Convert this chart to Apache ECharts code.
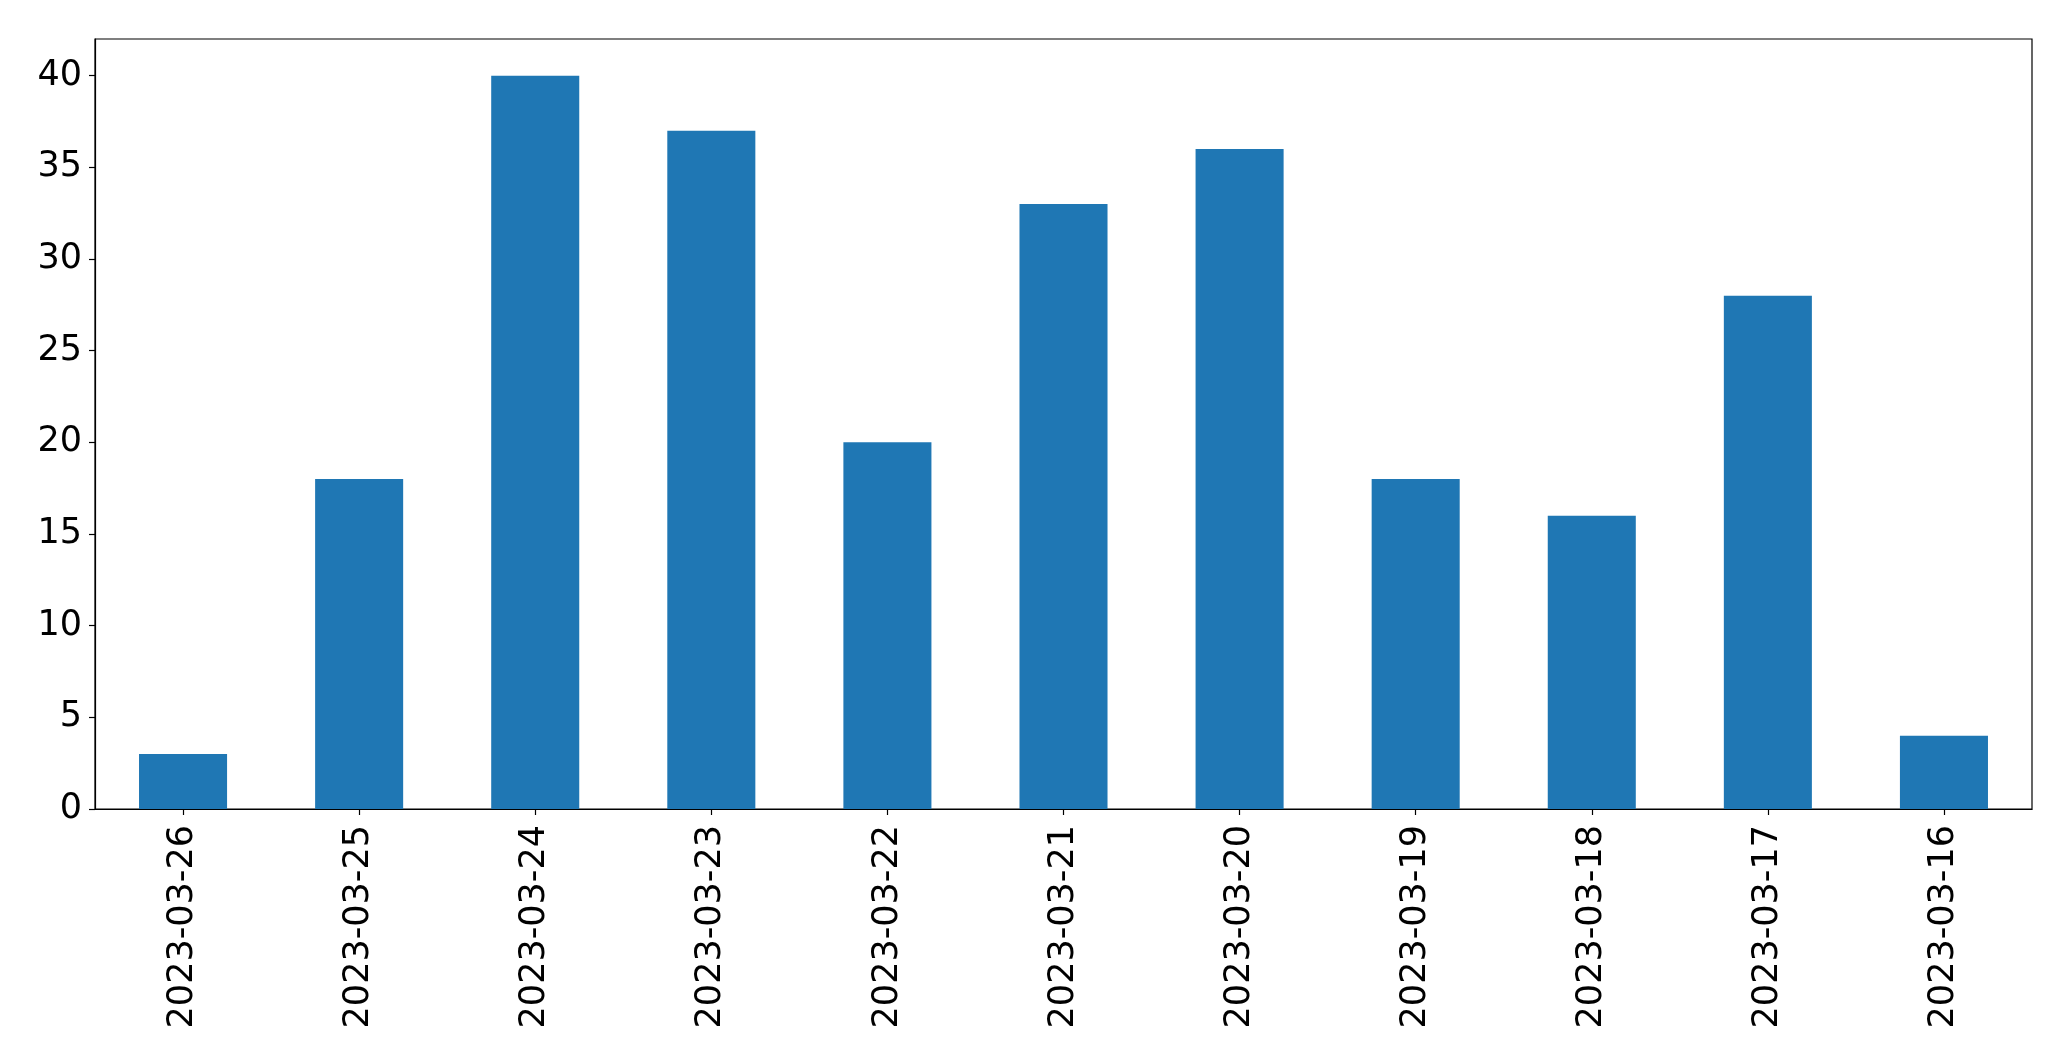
<!DOCTYPE html>
<html>
<head>
<meta charset="utf-8">
<script src="https://cdn.jsdelivr.net/npm/echarts@6/dist/echarts.min.js"></script>
<style>html,body{margin:0;padding:0;background:#fff}#c{width:2071px;height:1061px}</style>
</head>
<body>
<div id="c"></div>
<script>
const categories = ["2023-03-26","2023-03-25","2023-03-24","2023-03-23","2023-03-22","2023-03-21","2023-03-20","2023-03-19","2023-03-18","2023-03-17","2023-03-16"];
const values = [3, 18, 40, 37, 20, 33, 36, 18, 16, 28, 4];
const yTicks = [0, 5, 10, 15, 20, 25, 30, 35, 40];

const chart = echarts.init(document.getElementById('c'), null, {renderer: 'canvas'});
const font = 'DejaVu Sans';
chart.setOption({
  animation: false,
  backgroundColor: '#fff',
  grid: {
    left: 95, right: 39, top: 39, bottom: 252,
    containLabel: false, outerBoundsMode: 'none',
    show: true, borderColor: '#000', borderWidth: 1.2, backgroundColor: 'transparent'
  },
  xAxis: {
    type: 'category',
    data: categories,
    axisLine: {show: true, lineStyle: {color: '#000', width: 1.2}},
    axisTick: {show: true, alignWithLabel: true, length: 6, lineStyle: {color: '#000', width: 1.2}},
    axisLabel: {rotate: 90, margin: 16, color: '#000', fontFamily: font, fontSize: 35, interval: 0},
    splitLine: {show: false}
  },
  yAxis: {
    type: 'value',
    min: 0, max: 42, interval: 5,
    axisLine: {show: true, lineStyle: {color: '#000', width: 1.2}},
    axisTick: {show: true, length: 6, lineStyle: {color: '#000', width: 1.2}},
    axisLabel: {
      margin: 13, color: '#000', fontFamily: font, fontSize: 35, showMaxLabel: false,
      formatter: v => yTicks.includes(v) ? String(v) : ''
    },
    splitLine: {show: false}
  },
  series: [{
    type: 'bar',
    data: values,
    barWidth: '50%',
    itemStyle: {color: '#1f77b4'}
  }]
});
</script>
</body>
</html>
